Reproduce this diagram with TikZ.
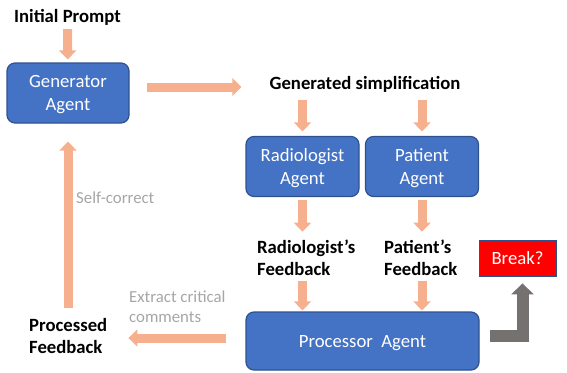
\documentclass[tikz,border=0pt]{standalone}
\usepackage{fontspec}
\setmainfont{Carlito}
\usetikzlibrary{arrows.meta, positioning}

\definecolor{agentblue}{RGB}{68,114,196}
\definecolor{agentline}{RGB}{47,82,143}
\definecolor{flowcol}{RGB}{246,176,141}
\definecolor{notecol}{RGB}{166,166,166}
\definecolor{stopcol}{RGB}{118,113,113}

\begin{document}
\begin{tikzpicture}[x=1pt, y=-1pt,
agent/.style={rectangle, rounded corners=8pt, draw=agentline, line width=1.2pt,
  fill=agentblue, text=white, align=center, inner sep=0pt, text depth=0pt,
  font=\fontsize{18.7}{23.5}\selectfont},
txt/.style={inner sep=0pt, align=left, font=\bfseries\fontsize{18.7}{22.5}\selectfont},
note/.style={inner sep=0pt, align=left, text=notecol, font=\fontsize{16.8}{20}\selectfont},
flow/.style={draw=flowcol, line width=9pt, -{Triangle[width=17pt,length=9pt]}},
stop/.style={draw=stopcol, line width=12pt, -{Triangle[width=22pt,length=11pt]}}]

\useasboundingbox (0,0) rectangle (567,372);

% top row
\node [txt, anchor=base] (init) at (67.5,23) {Initial Prompt};
\node [agent, minimum width=122pt, minimum height=60pt] (gen) at (68,93) {Generator\\Agent};
\node [txt, anchor=base] (gensimp) at (365,89) {Generated simplification};

% the two reviewers
\node [agent, minimum width=113pt, minimum height=60pt] (rad) at (302.5,166.5) {Radiologist\\Agent};
\node [agent, minimum width=113pt, minimum height=60pt] (pat) at (422,166.5) {Patient\\Agent};
\node [txt, anchor=west] (radfb) at (257,258) {Radiologist’s\\Feedback};
\node [txt, anchor=west] (patfb) at (384,258) {Patient’s\\Feedback};

% bottom row
\node [agent, minimum width=233pt, minimum height=58pt] (proc) at (362.5,341) {Processor\ \ Agent};
\node [txt, anchor=west] (procfb) at (29,336) {Processed\\Feedback};
\node [rectangle, draw=agentline, line width=0.8pt, fill=red, text=white, text depth=0pt,
  minimum width=77pt, minimum height=36pt, font=\fontsize{18.7}{23}\selectfont] (brk) at (517.5,258) {Break?};

\node [note, anchor=west] (selfc) at (76,198) {Self-correct};
\node [note, anchor=west] (extract) at (129,307) {Extract critical\\comments};

% arrows
\draw [flow, shorten <=3pt, shorten >=3pt] (init) -- (gen);
\draw [flow, shorten <=17pt, shorten >=28pt] ([yshift=6pt]gen.east) -- ([yshift=6pt]gen.east -| gensimp.west);
\draw [flow, shorten <=8pt, shorten >=4.5pt] (rad.north |- gensimp.south) -- (rad.north);
\draw [flow, shorten <=8pt, shorten >=4.5pt] (pat.north |- gensimp.south) -- (pat.north);
\draw [flow, shorten <=3pt, shorten >=8pt] (rad.south) -- (rad.south |- radfb.north);
\draw [flow, shorten <=3pt, shorten >=8pt] (pat.south) -- (pat.south |- patfb.north);
\draw [flow, shorten <=4.5pt, shorten >=1pt] (rad.south |- radfb.south) -- (rad.south |- proc.north);
\draw [flow, shorten <=4.5pt, shorten >=1pt] (pat.south |- patfb.south) -- (pat.south |- proc.north);
\draw [flow, shorten <=19pt, shorten >=21pt] ([yshift=3pt]proc.west) -- ([yshift=3pt]proc.west -| procfb.east);
\draw [flow, shorten <=10pt, shorten >=18pt] (procfb.north -| gen.south) -- (gen.south);
\draw [stop, line join=miter] ([yshift=5pt]proc.east) ++(10pt,0) -| ([xshift=5pt,yshift=-7pt]brk.south);

\end{tikzpicture}
\end{document}
